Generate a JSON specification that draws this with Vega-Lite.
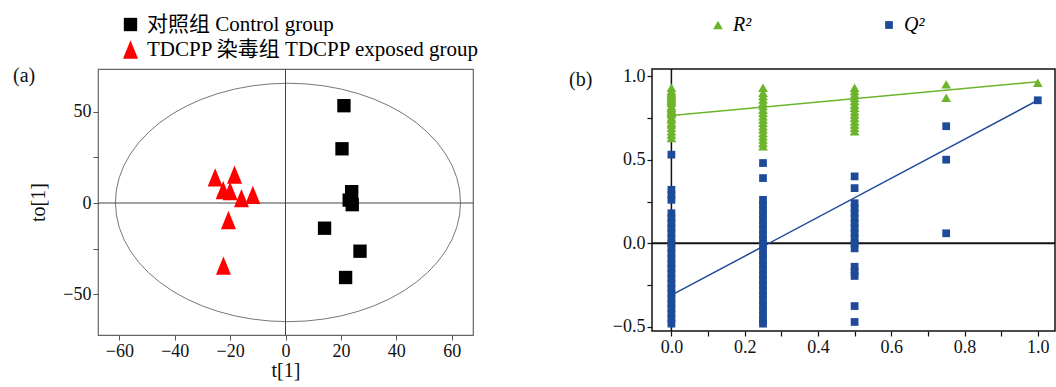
{
  "$schema": "https://vega.github.io/schema/vega-lite/v6.json",
  "padding": {"left": 12, "top": 13, "right": 2, "bottom": 5},
  "autosize": {"type": "pad"},
  "background": "white",
  "bounds": "flush",
  "spacing": 179,
  "config": {
    "font": "Liberation Serif",
    "axis": {"grid": false, "domain": false, "labelFont": "Liberation Serif", "titleFont": "Liberation Serif", "labelFontSize": 18, "titleFontSize": 20, "titleFontWeight": "normal", "labelColor": "#111", "titleColor": "#111", "tickSize": 5, "labelFlush": false, "labelOverlap": false, "labelBound": false},
    "legend": {"symbolStrokeWidth": 0, "labelColor": "#000", "padding": 0, "labelLimit": 0},
    "title": {"font": "Liberation Serif", "fontSize": 20, "fontWeight": "normal", "color": "#111"}
  },
  "resolve": {"scale": {"x": "independent", "y": "independent", "color": "independent", "shape": "independent", "size": "independent"}, "legend": {"color": "independent", "shape": "independent", "size": "independent"}},
  "datasets": {
    "ellipse": [
      {"i":0,"t1":63.2,"to1":0.3},{"i":1,"t1":62.86,"to1":7.12},{"i":2,"t1":61.84,"to1":13.88},{"i":3,"t1":60.15,"to1":20.48},{"i":4,"t1":57.81,"to1":26.86},{"i":5,"t1":54.85,"to1":32.95},{"i":6,"t1":51.3,"to1":38.68},{"i":7,"t1":47.2,"to1":43.99},{"i":8,"t1":42.59,"to1":48.83},{"i":9,"t1":37.52,"to1":53.13},{"i":10,"t1":32.05,"to1":56.85},{"i":11,"t1":26.24,"to1":59.95},{"i":12,"t1":20.15,"to1":62.41},{"i":13,"t1":13.85,"to1":64.17},{"i":14,"t1":7.41,"to1":65.24},{"i":15,"t1":0.9,"to1":65.6},
      {"i":16,"t1":-5.61,"to1":65.24},{"i":17,"t1":-12.05,"to1":64.17},{"i":18,"t1":-18.35,"to1":62.41},{"i":19,"t1":-24.44,"to1":59.95},{"i":20,"t1":-30.25,"to1":56.85},{"i":21,"t1":-35.72,"to1":53.13},{"i":22,"t1":-40.79,"to1":48.83},{"i":23,"t1":-45.4,"to1":43.99},{"i":24,"t1":-49.5,"to1":38.68},{"i":25,"t1":-53.05,"to1":32.95},{"i":26,"t1":-56.01,"to1":26.86},{"i":27,"t1":-58.35,"to1":20.48},{"i":28,"t1":-60.04,"to1":13.88},{"i":29,"t1":-61.06,"to1":7.12},{"i":30,"t1":-61.4,"to1":0.3},
      {"i":31,"t1":-61.06,"to1":-6.52},{"i":32,"t1":-60.04,"to1":-13.28},{"i":33,"t1":-58.35,"to1":-19.88},{"i":34,"t1":-56.01,"to1":-26.26},{"i":35,"t1":-53.05,"to1":-32.35},{"i":36,"t1":-49.5,"to1":-38.08},{"i":37,"t1":-45.4,"to1":-43.39},{"i":38,"t1":-40.79,"to1":-48.23},{"i":39,"t1":-35.72,"to1":-52.53},{"i":40,"t1":-30.25,"to1":-56.25},{"i":41,"t1":-24.44,"to1":-59.35},{"i":42,"t1":-18.35,"to1":-61.81},{"i":43,"t1":-12.05,"to1":-63.57},{"i":44,"t1":-5.61,"to1":-64.64},{"i":45,"t1":0.9,"to1":-65.0},
      {"i":46,"t1":7.41,"to1":-64.64},{"i":47,"t1":13.85,"to1":-63.57},{"i":48,"t1":20.15,"to1":-61.81},{"i":49,"t1":26.24,"to1":-59.35},{"i":50,"t1":32.05,"to1":-56.25},{"i":51,"t1":37.52,"to1":-52.53},{"i":52,"t1":42.59,"to1":-48.23},{"i":53,"t1":47.2,"to1":-43.39},{"i":54,"t1":51.3,"to1":-38.08},{"i":55,"t1":54.85,"to1":-32.35},{"i":56,"t1":57.81,"to1":-26.26},{"i":57,"t1":60.15,"to1":-19.88},{"i":58,"t1":61.84,"to1":-13.28},{"i":59,"t1":62.86,"to1":-6.52},{"i":60,"t1":63.2,"to1":0.3}
    ],
    "scores": [
      {"t1":21.1,"to1":53.3,"group":"对照组 Control group"},
      {"t1":20.4,"to1":29.7,"group":"对照组 Control group"},
      {"t1":23.9,"to1":6.2,"group":"对照组 Control group"},
      {"t1":23.0,"to1":1.6,"group":"对照组 Control group"},
      {"t1":24.1,"to1":-0.9,"group":"对照组 Control group"},
      {"t1":14.1,"to1":-13.8,"group":"对照组 Control group"},
      {"t1":26.9,"to1":-26.4,"group":"对照组 Control group"},
      {"t1":21.7,"to1":-40.8,"group":"对照组 Control group"},
      {"t1":-25.4,"to1":14.0,"group":"TDCPP 染毒组 TDCPP exposed group"},
      {"t1":-18.4,"to1":15.5,"group":"TDCPP 染毒组 TDCPP exposed group"},
      {"t1":-22.5,"to1":7.0,"group":"TDCPP 染毒组 TDCPP exposed group"},
      {"t1":-20.0,"to1":6.5,"group":"TDCPP 染毒组 TDCPP exposed group"},
      {"t1":-15.9,"to1":2.7,"group":"TDCPP 染毒组 TDCPP exposed group"},
      {"t1":-11.8,"to1":4.5,"group":"TDCPP 染毒组 TDCPP exposed group"},
      {"t1":-20.6,"to1":-9.3,"group":"TDCPP 染毒组 TDCPP exposed group"},
      {"t1":-22.4,"to1":-34.3,"group":"TDCPP 染毒组 TDCPP exposed group"}
    ],
    "perm": [
      {"p":0,"v":0.63,"stat":"R²"},{"p":0,"v":0.65,"stat":"R²"},{"p":0,"v":0.67,"stat":"R²"},{"p":0,"v":0.69,"stat":"R²"},{"p":0,"v":0.71,"stat":"R²"},{"p":0,"v":0.72,"stat":"R²"},{"p":0,"v":0.74,"stat":"R²"},{"p":0,"v":0.75,"stat":"R²"},{"p":0,"v":0.77,"stat":"R²"},{"p":0,"v":0.78,"stat":"R²"},{"p":0,"v":0.79,"stat":"R²"},{"p":0,"v":0.8,"stat":"R²"},{"p":0,"v":0.81,"stat":"R²"},{"p":0,"v":0.82,"stat":"R²"},{"p":0,"v":0.84,"stat":"R²"},{"p":0,"v":0.85,"stat":"R²"},{"p":0,"v":0.86,"stat":"R²"},{"p":0,"v":0.87,"stat":"R²"},{"p":0,"v":0.88,"stat":"R²"},{"p":0,"v":0.89,"stat":"R²"},{"p":0,"v":0.9,"stat":"R²"},{"p":0,"v":0.91,"stat":"R²"},{"p":0,"v":0.93,"stat":"R²"},
      {"p":0.25,"v":0.58,"stat":"R²"},{"p":0.25,"v":0.6,"stat":"R²"},{"p":0.25,"v":0.62,"stat":"R²"},{"p":0.25,"v":0.64,"stat":"R²"},{"p":0.25,"v":0.66,"stat":"R²"},{"p":0.25,"v":0.68,"stat":"R²"},{"p":0.25,"v":0.7,"stat":"R²"},{"p":0.25,"v":0.72,"stat":"R²"},{"p":0.25,"v":0.74,"stat":"R²"},{"p":0.25,"v":0.76,"stat":"R²"},{"p":0.25,"v":0.78,"stat":"R²"},{"p":0.25,"v":0.8,"stat":"R²"},{"p":0.25,"v":0.82,"stat":"R²"},{"p":0.25,"v":0.84,"stat":"R²"},{"p":0.25,"v":0.86,"stat":"R²"},{"p":0.25,"v":0.88,"stat":"R²"},{"p":0.25,"v":0.9,"stat":"R²"},{"p":0.25,"v":0.93,"stat":"R²"},
      {"p":0.5,"v":0.67,"stat":"R²"},{"p":0.5,"v":0.69,"stat":"R²"},{"p":0.5,"v":0.71,"stat":"R²"},{"p":0.5,"v":0.73,"stat":"R²"},{"p":0.5,"v":0.75,"stat":"R²"},{"p":0.5,"v":0.77,"stat":"R²"},{"p":0.5,"v":0.79,"stat":"R²"},{"p":0.5,"v":0.81,"stat":"R²"},{"p":0.5,"v":0.83,"stat":"R²"},{"p":0.5,"v":0.85,"stat":"R²"},{"p":0.5,"v":0.87,"stat":"R²"},{"p":0.5,"v":0.89,"stat":"R²"},{"p":0.5,"v":0.91,"stat":"R²"},{"p":0.5,"v":0.93,"stat":"R²"},
      {"p":0.75,"v":0.87,"stat":"R²"},{"p":0.75,"v":0.95,"stat":"R²"},
      {"p":1,"v":0.96,"stat":"R²"},
      {"p":0,"v":0.53,"stat":"Q²"},{"p":0,"v":0.32,"stat":"Q²"},{"p":0,"v":0.29,"stat":"Q²"},{"p":0,"v":0.26,"stat":"Q²"},
      {"p":0,"v":0.18,"stat":"Q²"},{"p":0,"v":0.15,"stat":"Q²"},{"p":0,"v":0.12,"stat":"Q²"},{"p":0,"v":0.09,"stat":"Q²"},{"p":0,"v":0.06,"stat":"Q²"},{"p":0,"v":0.03,"stat":"Q²"},{"p":0,"v":0.0,"stat":"Q²"},{"p":0,"v":-0.03,"stat":"Q²"},{"p":0,"v":-0.06,"stat":"Q²"},{"p":0,"v":-0.09,"stat":"Q²"},{"p":0,"v":-0.12,"stat":"Q²"},{"p":0,"v":-0.15,"stat":"Q²"},{"p":0,"v":-0.18,"stat":"Q²"},{"p":0,"v":-0.21,"stat":"Q²"},{"p":0,"v":-0.24,"stat":"Q²"},{"p":0,"v":-0.27,"stat":"Q²"},{"p":0,"v":-0.3,"stat":"Q²"},{"p":0,"v":-0.33,"stat":"Q²"},{"p":0,"v":-0.36,"stat":"Q²"},{"p":0,"v":-0.39,"stat":"Q²"},{"p":0,"v":-0.42,"stat":"Q²"},{"p":0,"v":-0.45,"stat":"Q²"},{"p":0,"v":-0.48,"stat":"Q²"},
      {"p":0.25,"v":0.48,"stat":"Q²"},{"p":0.25,"v":0.39,"stat":"Q²"},
      {"p":0.25,"v":0.26,"stat":"Q²"},{"p":0.25,"v":0.23,"stat":"Q²"},{"p":0.25,"v":0.2,"stat":"Q²"},{"p":0.25,"v":0.17,"stat":"Q²"},{"p":0.25,"v":0.14,"stat":"Q²"},{"p":0.25,"v":0.11,"stat":"Q²"},{"p":0.25,"v":0.08,"stat":"Q²"},{"p":0.25,"v":0.05,"stat":"Q²"},{"p":0.25,"v":0.02,"stat":"Q²"},{"p":0.25,"v":-0.01,"stat":"Q²"},{"p":0.25,"v":-0.04,"stat":"Q²"},{"p":0.25,"v":-0.07,"stat":"Q²"},{"p":0.25,"v":-0.1,"stat":"Q²"},{"p":0.25,"v":-0.13,"stat":"Q²"},{"p":0.25,"v":-0.16,"stat":"Q²"},{"p":0.25,"v":-0.19,"stat":"Q²"},{"p":0.25,"v":-0.22,"stat":"Q²"},{"p":0.25,"v":-0.25,"stat":"Q²"},{"p":0.25,"v":-0.28,"stat":"Q²"},{"p":0.25,"v":-0.31,"stat":"Q²"},{"p":0.25,"v":-0.34,"stat":"Q²"},{"p":0.25,"v":-0.37,"stat":"Q²"},{"p":0.25,"v":-0.4,"stat":"Q²"},{"p":0.25,"v":-0.43,"stat":"Q²"},{"p":0.25,"v":-0.46,"stat":"Q²"},{"p":0.25,"v":-0.48,"stat":"Q²"},
      {"p":0.5,"v":0.4,"stat":"Q²"},{"p":0.5,"v":0.33,"stat":"Q²"},
      {"p":0.5,"v":0.24,"stat":"Q²"},{"p":0.5,"v":0.21,"stat":"Q²"},{"p":0.5,"v":0.18,"stat":"Q²"},{"p":0.5,"v":0.15,"stat":"Q²"},{"p":0.5,"v":0.12,"stat":"Q²"},{"p":0.5,"v":0.09,"stat":"Q²"},{"p":0.5,"v":0.06,"stat":"Q²"},{"p":0.5,"v":0.03,"stat":"Q²"},{"p":0.5,"v":0.0,"stat":"Q²"},{"p":0.5,"v":-0.03,"stat":"Q²"},
      {"p":0.5,"v":-0.14,"stat":"Q²"},{"p":0.5,"v":-0.17,"stat":"Q²"},{"p":0.5,"v":-0.195,"stat":"Q²"},
      {"p":0.5,"v":-0.375,"stat":"Q²"},{"p":0.5,"v":-0.47,"stat":"Q²"},
      {"p":0.75,"v":0.7,"stat":"Q²"},{"p":0.75,"v":0.5,"stat":"Q²"},{"p":0.75,"v":0.06,"stat":"Q²"},
      {"p":1,"v":0.855,"stat":"Q²"}
    ]
  },
  "hconcat": [
    {
      "width": 375,
      "height": 266,
      "title": {"text": "(a)", "anchor": "start", "frame": "group", "orient": "top", "offset": 0, "baseline": "top", "dx": -85, "dy": 72},
      "view": {"stroke": "#666", "strokeWidth": 1.2},
      "layer": [
        {
          "data": {"name": "ellipse"},
          "mark": {"type": "line", "color": "#777", "strokeWidth": 1, "interpolate": "linear"},
          "encoding": {
            "x": {"field": "t1", "type": "quantitative", "scale": {"domain": [-67.7, 67.7], "nice": false, "zero": false},
              "axis": {"title": "t[1]", "values": [-60,-50,-40,-30,-20,-10,0,10,20,30,40,50,60], "labelExpr": "round(datum.value) % 20 == 0 ? datum.label : ''", "labelFont": "Liberation Serif", "titleFont": "Liberation Serif", "tickColor": "#555", "titlePadding": 0}},
            "y": {"field": "to1", "type": "quantitative", "scale": {"domain": [-72.3, 73.4], "nice": false, "zero": false},
              "axis": {"title": "to[1]", "values": [-50,-25,0,25,50], "labelExpr": "round(datum.value) % 50 == 0 ? datum.label : ''", "labelFont": "Liberation Serif", "titleFont": "Liberation Serif", "tickColor": "#555", "titlePadding": 14}},
            "order": {"field": "i", "type": "quantitative"}
          }
        },
        {
          "data": {"values": [{"t1": 0}]},
          "mark": {"type": "rule", "color": "#444", "strokeWidth": 1},
          "encoding": {"x": {"field": "t1", "type": "quantitative"}}
        },
        {
          "data": {"values": [{"to1": 0}]},
          "mark": {"type": "rule", "color": "#444", "strokeWidth": 1},
          "encoding": {"y": {"field": "to1", "type": "quantitative"}}
        },
        {
          "data": {"name": "scores"},
          "mark": {"type": "point", "filled": true, "opacity": 1, "strokeWidth": 0},
          "encoding": {
            "x": {"field": "t1", "type": "quantitative"},
            "y": {"field": "to1", "type": "quantitative"},
            "shape": {"field": "group", "type": "nominal", "scale": {"domain": ["对照组 Control group", "TDCPP 染毒组 TDCPP exposed group"], "range": ["square", "M0,-1.22L1,1.22L-1,1.22Z"]},
              "legend": {"title": null, "orient": "none", "legendX": 22, "legendY": -55, "labelFont": "Liberation Serif, Noto Sans CJK SC", "labelFontSize": 21, "labelOffset": 6, "rowPadding": 3, "labelLimit": 0, "symbolStrokeWidth": 0,
                "encode": {"symbols": {"update": {"shape": {"signal": "datum.value === '对照组 Control group' ? 'square' : 'triangle-up'"}, "size": {"signal": "datum.value === '对照组 Control group' ? 178 : 280"}}}}}},
            "color": {"field": "group", "type": "nominal", "scale": {"domain": ["对照组 Control group", "TDCPP 染毒组 TDCPP exposed group"], "range": ["#000000", "#ff0000"]}},
            "size": {"field": "group", "type": "nominal", "scale": {"domain": ["对照组 Control group", "TDCPP 染毒组 TDCPP exposed group"], "range": [178, 225]}}
          }
        }
      ]
    },
    {
      "width": 403,
      "height": 262,
      "title": {"text": "(b)", "anchor": "start", "frame": "group", "orient": "top", "offset": 0, "baseline": "top", "dx": -83, "dy": 75},
      "view": {"stroke": "#111", "strokeWidth": 1.5},
      "layer": [
        {
          "data": {"values": [{"p": 0}]},
          "mark": {"type": "rule", "color": "#111", "strokeWidth": 1.5},
          "encoding": {"x": {"field": "p", "type": "quantitative", "scale": {"domain": [-0.053, 1.047], "nice": false, "zero": false},
              "axis": {"title": null, "values": [0,0.1,0.2,0.3,0.4,0.5,0.6,0.7,0.8,0.9,1.0], "labelExpr": "round(datum.value*10) % 2 == 0 ? format(datum.value, '.1f') : ''", "labelFont": "Liberation Serif", "tickColor": "#111", "tickWidth": 1.2}}}
        },
        {
          "data": {"values": [{"v": 0}]},
          "mark": {"type": "rule", "color": "#111", "strokeWidth": 2},
          "encoding": {"y": {"field": "v", "type": "quantitative", "scale": {"domain": [-0.524, 1.042], "nice": false, "zero": false},
              "axis": {"title": null, "values": [-0.5,-0.25,0,0.25,0.5,0.75,1.0], "labelExpr": "round(datum.value*4) % 2 == 0 ? format(datum.value, '.1f') : ''", "labelFont": "Liberation Serif", "tickColor": "#111", "tickWidth": 1.2}}}
        },
        {
          "data": {"values": [{"p": 0, "v": 0.764}, {"p": 1, "v": 0.966}]},
          "mark": {"type": "line", "color": "#6bb42c", "strokeWidth": 1.5},
          "encoding": {"x": {"field": "p", "type": "quantitative"}, "y": {"field": "v", "type": "quantitative"}}
        },
        {
          "data": {"values": [{"p": 0, "v": -0.31}, {"p": 1, "v": 0.855}]},
          "mark": {"type": "line", "color": "#1e4a9a", "strokeWidth": 1.5},
          "encoding": {"x": {"field": "p", "type": "quantitative"}, "y": {"field": "v", "type": "quantitative"}}
        },
        {
          "data": {"name": "perm"},
          "mark": {"type": "point", "filled": true, "opacity": 1, "strokeWidth": 0},
          "encoding": {
            "x": {"field": "p", "type": "quantitative"},
            "y": {"field": "v", "type": "quantitative"},
            "shape": {"field": "stat", "type": "nominal", "scale": {"domain": ["R²", "Q²"], "range": ["triangle-up", "square"]},
              "legend": {"title": null, "orient": "none", "direction": "horizontal", "legendX": 56, "legendY": -54, "columnPadding": 127, "labelFont": "Liberation Serif", "labelFontSize": 20, "labelFontStyle": "italic", "labelOffset": 5, "symbolStrokeWidth": 0}},
            "color": {"field": "stat", "type": "nominal", "scale": {"domain": ["R²", "Q²"], "range": ["#6bb42c", "#1e4a9a"]}},
            "size": {"field": "stat", "type": "nominal", "scale": {"domain": ["R²", "Q²"], "range": [95, 60]}}
          }
        }
      ]
    }
  ]
}
